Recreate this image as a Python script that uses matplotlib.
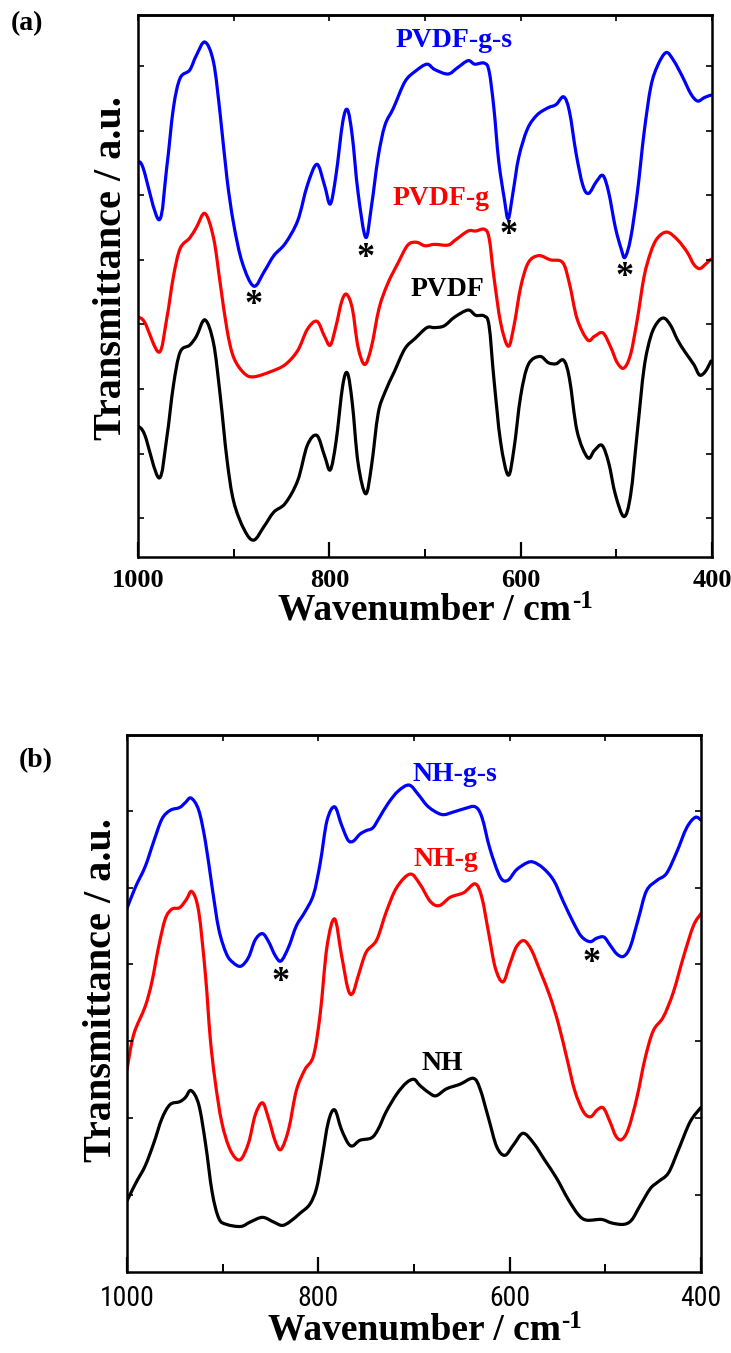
import numpy as np
import matplotlib
matplotlib.use("Agg")
import matplotlib.pyplot as plt
from matplotlib.path import Path
from matplotlib.patches import PathPatch
from matplotlib import font_manager

SERIF = ['Liberation Serif', 'DejaVu Serif']
_names = {f.name for f in font_manager.fontManager.ttflist}
_cond = [n for n in ['Liberation Sans Narrow', 'Arial Narrow', 'Roboto Condensed',
                     'Open Sans Condensed', 'DejaVu Sans Condensed'] if n in _names]
if _cond:
    NARROW = [_cond[0], 'DejaVu Sans']
    NARROW_SIZE = 20
else:
    NARROW = ['Liberation Sans', 'DejaVu Sans']
    NARROW_SIZE = 16

# ---------------- Panel (a) data ----------------
a_wn_gs = [1000, 994.7, 978, 970, 963, 956, 946, 939, 930, 921, 914, 907, 900, 891, 879, 868, 858, 846,
           833, 823, 813, 805, 799, 793, 786, 781, 776, 770, 762, 756, 749, 742, 733, 721, 710, 698,
           690, 676, 666, 655, 648, 638, 633, 628, 623, 617, 613, 608, 602, 593, 583, 572, 563, 555,
           549, 542, 535, 529, 521, 514, 508, 501, 495, 491, 485, 478, 471, 464, 457, 448, 440, 431,
           422, 415, 408, 401]
a_t_gs = [1123, 1108, 960, 1108, 1278, 1363, 1386, 1428, 1466, 1408, 1258, 1078, 948, 838, 771, 813, 858, 893,
          958, 1058, 1118, 1058, 1005, 1088, 1238, 1273, 1198, 1038, 910, 998, 1138, 1228, 1278, 1353, 1383, 1403,
          1388, 1375, 1393, 1413, 1403, 1406, 1383, 1278, 1128, 1018, 963, 1038, 1138, 1218, 1258, 1278, 1288, 1310,
          1268, 1148, 1058, 1035, 1068, 1086, 1038, 938, 878, 853, 908, 1038, 1208, 1338, 1398, 1436, 1413, 1368,
          1318, 1298, 1308, 1315]

a_wn_g = [1000, 993, 978, 970, 963, 956, 946, 939, 930, 921, 914, 907, 900, 889, 879, 861, 846, 833, 823,
          813, 805, 799, 793, 787, 782, 776, 770, 763, 756, 748, 739, 728, 718, 709, 700,
          690, 676, 668, 655, 647, 638, 633, 628, 621, 613, 607, 600, 592, 581, 569, 556, 549, 541,
          530, 523, 514, 506, 499, 492, 485, 478, 471, 464, 457, 447, 436, 426, 419, 413, 407, 401]
a_t_g = [683, 668, 583, 678, 798, 878, 908, 938, 978, 908, 778, 648, 568, 523, 513, 528, 548, 588, 648,
         671, 628, 603, 658, 728, 748, 708, 598, 548, 598, 708, 778, 838, 888, 896, 886,
         890, 888, 903, 928, 928, 933, 908, 798, 668, 600, 658, 768, 838, 858, 846, 838, 778, 678,
         618, 628, 638, 598, 553, 538, 578, 678, 798, 868, 908, 925, 903, 868, 833, 821, 833, 848]

a_wn_p = [1000, 993, 978, 970, 963, 956, 946, 939, 930, 921, 914, 907, 900, 889, 879, 868, 858, 846, 833,
          823, 813, 805, 799, 793, 786, 781, 776, 770, 762, 756, 749, 742, 732, 721, 710, 698,
          690, 680, 669, 655, 647, 638, 633, 628, 621, 613, 607, 600, 592, 580, 571, 563, 555, 549,
          541, 530, 523, 515, 508, 501, 492, 485, 478, 471, 464, 457, 450, 443, 436, 428, 419, 413, 407, 401]
a_t_p = [373, 348, 225, 338, 488, 583, 603, 628, 675, 608, 458, 278, 158, 78, 48, 88, 128, 153, 218,
         318, 346, 288, 248, 328, 488, 523, 438, 268, 180, 258, 408, 468, 528, 593, 623, 653,
         653, 658, 683, 703, 688, 686, 658, 508, 328, 233, 308, 458, 548, 571, 553, 550, 560, 508,
         358, 283, 303, 318, 268, 178, 115, 178, 358, 538, 628, 668, 680, 658, 618, 583, 548, 518, 528, 558]

a_labels = ["PVDF-g-s", "PVDF-g", "PVDF"]
a_label_wn = [670, 683, 676]
a_label_t = [1453, 1003, 743]
a_star_wn = [879, 762, 613, 491]
a_star_t = [763, 898, 963, 843]
a_yticks = [110, 294, 478, 662, 846, 1030, 1214, 1398]
a_ylim = (0, 1543)

# ---------------- Panel (b) data ----------------
b_wn_gs = [1000, 991.3, 980.9, 972.2, 963.5, 954.8, 945, 939, 933, 925, 918, 911, 904, 896, 889, 881, 873,
           866, 858.4, 852, 845, 839, 831, 823, 814, 805, 798, 791, 783, 776, 769, 763.5, 756.5, 750, 743,
           736, 727, 716.5, 705,
           695.5, 685, 671, 659, 647, 636, 629, 620.6, 610, 602, 593, 582, 575, 565, 554, 544, 533.5,
           525, 516, 509, 501.4, 495, 488, 481, 474, 465.5, 457, 446, 436, 425.5, 415, 406, 400]
b_t_gs = [1038, 1098, 1158, 1228, 1293, 1318, 1326, 1340, 1353, 1318, 1228, 1098, 978, 908, 883, 873, 898,
          948, 966, 943, 903, 888, 928, 988, 1028, 1078, 1168, 1288, 1328, 1278, 1233, 1230, 1250, 1260, 1268,
          1298, 1338, 1373, 1390,
          1363, 1328, 1306, 1313, 1323, 1328, 1298, 1208, 1128, 1118, 1148, 1168, 1170, 1153, 1118, 1058, 998,
          958, 943, 953, 956, 933, 908, 901, 928, 1008, 1088, 1118, 1138, 1198, 1268, 1298, 1290]

b_wn_g = [1000, 993, 981, 974, 967, 960, 953, 945, 938, 932, 925, 918, 913, 908, 901, 892, 882, 873, 866,
          858.4, 852, 845, 839, 831, 823, 814, 805, 798, 791, 783, 776, 769, 764, 758, 750, 739, 729, 718, 704,
          694, 683, 673.5, 662, 648, 636, 629, 622, 615, 607, 600, 593, 585, 577, 568, 558, 549, 540,
          532, 523, 515.5, 508.4, 502, 495, 489, 483, 476, 467, 458.6, 450, 439.4, 429, 418.5, 408, 400]
b_t_g = [578, 678, 758, 828, 928, 1008, 1036, 1040, 1063, 1086, 1028, 848, 668, 548, 428, 348, 320, 368, 448,
         483, 438, 373, 350, 408, 518, 578, 618, 738, 928, 1008, 908, 808, 796, 848, 913, 948, 1028, 1098, 1136,
         1108, 1058, 1046, 1070, 1083, 1108, 1068, 968, 868, 828, 878, 928, 946, 918, 858, 788, 708, 608,
         518, 458, 443, 463, 468, 428, 388, 378, 408, 498, 608, 688, 728, 798, 898, 988, 1023]

b_wn_p = [1000, 991, 981, 972, 963.5, 955, 945, 939, 933, 925, 918, 911, 904, 896, 881, 871, 858.4, 847,
          838, 830, 819, 809, 802, 796.5, 789.6, 783, 776, 769, 764, 756.5, 744.4, 737.4, 729, 718, 708, 700,
          694, 685, 677, 666, 652, 638, 631, 622, 613.6, 605, 596, 586, 575, 563, 551, 539, 528, 519.5,
          504, 493.4, 481, 472.6, 464, 453, 444.6, 434, 423.7, 411.5, 400]
b_t_p = [203, 253, 303, 368, 438, 478, 486, 498, 518, 478, 368, 228, 153, 136, 130, 143, 156, 143,
         133, 143, 168, 193, 238, 318, 428, 463, 408, 368, 360, 376, 383, 408, 458, 508, 540, 550,
         533, 513, 503, 523, 536, 553, 523, 438, 358, 333, 363, 396, 368, 318, 268, 208, 163, 148,
         150, 140, 136, 148, 188, 238, 258, 283, 348, 428, 470]

b_labels = ["NH-g-s", "NH-g", "NH"]
b_label_wn = [657, 666.5, 670.7]
b_label_t = [1403, 1158, 578]
b_star_wn = [839, 514.3]
b_star_t = [873, 928]
b_yticks = [221, 440, 659, 878, 1097, 1316]
b_ylim = (0, 1533)

xticks_major = [1000, 800, 600, 400]
xticks_minor = [900, 700, 500]
xticks_top = [1000, 900, 800, 700, 600, 500, 400]
colors = ['#0000ff', '#ff0000', '#000000']

W, H = 731, 1353
fig = plt.figure(figsize=(W / 100, H / 100), dpi=100)

def px_axes(l, t, r, b):
    return fig.add_axes([l / W, 1 - b / H, (r - l) / W, (b - t) / H])

ax_a = px_axes(138, 15, 712, 557)
ax_b = px_axes(127, 735, 701, 1272)


def smooth_curve(ax, xs, ys, color):
    p = np.column_stack([xs, ys]).astype(float)
    n = len(p)
    verts = [p[0]]
    codes = [Path.MOVETO]
    for i in range(n - 1):
        p0 = p[i - 1] if i > 0 else p[i]
        p1 = p[i]
        p2 = p[i + 1]
        p3 = p[i + 2] if i + 2 < n else p[i + 1]
        c1 = p1 + (p2 - p0) / 6.0
        c2 = p2 - (p3 - p1) / 6.0
        verts += [c1, c2, p2]
        codes += [Path.CURVE4] * 3
    patch = PathPatch(Path(verts, codes), facecolor='none', edgecolor=color, lw=2.3,
                      joinstyle='round', capstyle='round', transform=ax.transData)
    ax.add_patch(patch)


def style(ax, yticks, ylim, tickfont, tsize, tweight):
    ax.set_xlim(1000, 400)
    ax.set_ylim(*ylim)
    ax.set_xticks(xticks_major)
    ax.set_xticks(xticks_minor, minor=True)
    ax.set_yticks(yticks)
    ax.tick_params(axis='x', which='major', direction='in', length=11, width=1.6,
                   top=False, pad=9)
    ax.tick_params(axis='x', which='minor', direction='in', length=6, width=1.4, top=False)
    ax.tick_params(axis='y', which='major', direction='in', length=4, width=1.2,
                   left=True, right=True, labelleft=False)
    for lab in ax.get_xticklabels():
        lab.set_fontfamily(tickfont)
        lab.set_fontsize(tsize)
        lab.set_fontweight(tweight)
    for s in ax.spines.values():
        s.set_linewidth(1.8)
    sec = ax.secondary_xaxis('top')
    sec.set_xticks(xticks_top)
    sec.tick_params(direction='in', length=4, width=1.2, labeltop=False)
    sec.spines['top'].set_linewidth(1.8)


# Panel (a)
for wn, t, c in zip([a_wn_gs, a_wn_g, a_wn_p], [a_t_gs, a_t_g, a_t_p], colors):
    smooth_curve(ax_a, wn, t, c)
for lab, x, y, c in zip(a_labels, a_label_wn, a_label_t, colors):
    ax_a.text(x, y, lab, color=c, ha='center', va='baseline', fontsize=20,
              fontweight='bold', family=SERIF)
for x, y in zip(a_star_wn, a_star_t):
    ax_a.text(x, y, '*', ha='center', va='top', fontsize=26, fontweight='bold', family=SERIF)
style(ax_a, a_yticks, a_ylim, SERIF, 19, 'bold')
ax_a.set_xlabel('Wavenumber / cm', fontsize=27, fontweight='bold', family=SERIF, va='center')
ax_a.xaxis.set_label_coords(0.5, (557 - 610) / 542)
ax_a.set_ylabel('Transmittance / a.u.', fontsize=29, fontweight='bold', family=SERIF, va='center')
ax_a.yaxis.set_label_coords((112 - 138) / 574, (557 - 268) / 542)

# Panel (b)
for wn, t, c in zip([b_wn_gs, b_wn_g, b_wn_p], [b_t_gs, b_t_g, b_t_p], colors):
    smooth_curve(ax_b, wn, t, c)
for lab, x, y, c in zip(b_labels, b_label_wn, b_label_t, colors):
    ax_b.text(x, y, lab, color=c, ha='center', va='baseline', fontsize=20,
              fontweight='bold', family=SERIF)
for x, y in zip(b_star_wn, b_star_t):
    ax_b.text(x, y, '*', ha='center', va='top', fontsize=26, fontweight='bold', family=SERIF)
style(ax_b, b_yticks, b_ylim, NARROW, NARROW_SIZE, 'normal')
ax_b.set_xlabel('Wavenumber / cm', fontsize=27, fontweight='bold', family=SERIF, va='center')
ax_b.xaxis.set_label_coords(0.5, (1272 - 1330) / 537)
ax_b.set_ylabel('Transmittance / a.u.', fontsize=29, fontweight='bold', family=SERIF, va='center')
ax_b.yaxis.set_label_coords((102 - 127) / 574, (1272 - 990) / 537)

fig.text(27 / W, 1 - 24 / H, '(a)', ha='center', va='center', fontsize=20,
         fontweight='bold', family=SERIF)
fig.text(36 / W, 1 - 761 / H, '(b)', ha='center', va='center', fontsize=20,
         fontweight='bold', family=SERIF)

# superscript "-1" after each x-axis label
fig.canvas.draw()
renderer = fig.canvas.get_renderer()
for ax in (ax_a, ax_b):
    bb = ax.xaxis.label.get_window_extent(renderer)
    fig.text((bb.x1 + 1) / W, (bb.y1 + 2) / H, '-1', ha='left', va='top', fontsize=18,
             fontweight='bold', family=SERIF)

fig.savefig('out.png', dpi=100)
